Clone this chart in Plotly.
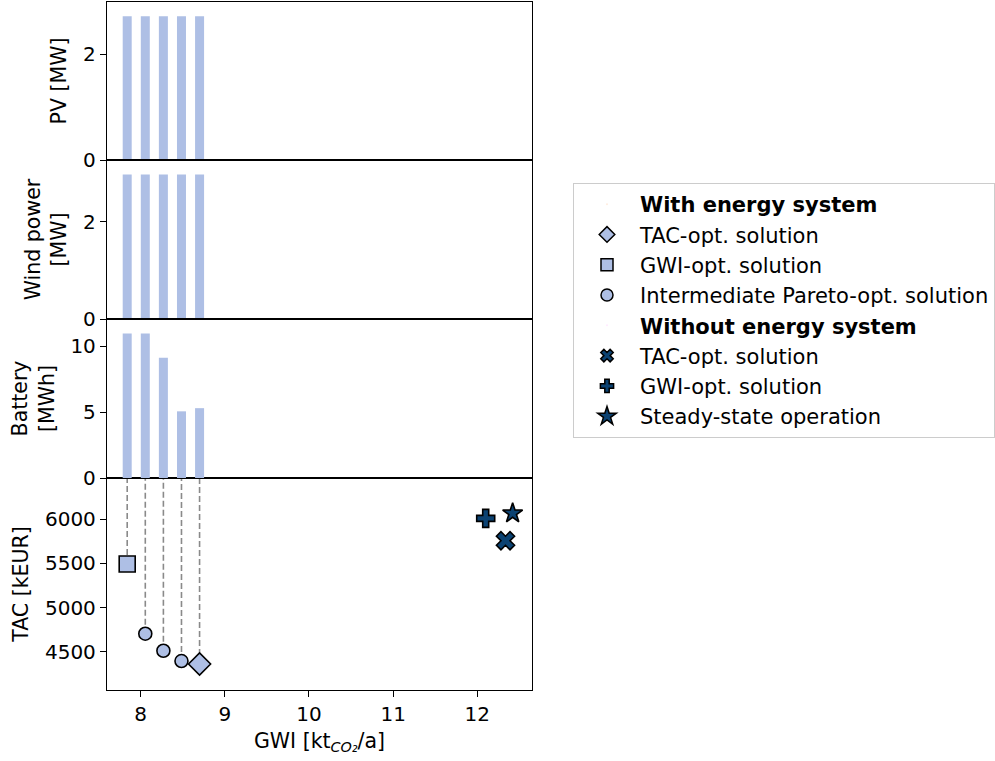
import plotly.graph_objects as go

# Pareto-optimal designs with energy system (GWI in kt CO2/a, TAC in kEUR)
gwi_with = [7.84, 8.055, 8.27, 8.485, 8.70]
tac_with = [5493, 4704, 4511, 4394, 4360]
pv_mw = [2.72, 2.72, 2.72, 2.72, 2.72]
wind_mw = [2.97, 2.97, 2.97, 2.97, 2.97]
battery_mwh = [10.97, 10.97, 9.13, 5.06, 5.30]

# Reference cases without energy system
gwi_without = [12.335, 12.10, 12.42]
tac_without = [5757, 6011, 6068]
labels_without = ["TAC-opt. solution", "GWI-opt. solution", "Steady-state operation"]

X_RANGE = [7.6, 12.65]
TAC_RANGE = [4066, 6468]

LIGHT = "#aebfe5"
DARK = "#0b4272"
FONT = "DejaVu Sans"
BAR_W = 0.107
TITLE_SIZE = 20.5

# paper-coordinate domains of the four stacked panels
X_DOM = [107 / 995, 532 / 995]
edges = [1 - v / 761 for v in (2, 160, 319, 478, 690)]

fig = go.Figure()

# capacity bars (PV -> x2/y2, wind -> x3/y3, battery -> x4/y4)
for vals, ax in ((pv_mw, "2"), (wind_mw, "3"), (battery_mwh, "4")):
    fig.add_trace(go.Bar(x=gwi_with, y=vals, width=BAR_W, marker=dict(color=LIGHT, line=dict(width=0)),
                         xaxis="x" + ax, yaxis="y" + ax, showlegend=False, hoverinfo="skip"))

# dashed connectors from each design up to the bars above
for g, t in zip(gwi_with, tac_with):
    fig.add_trace(go.Scatter(x=[g, g], y=[t, TAC_RANGE[1]], mode="lines",
                             line=dict(color="#8a8a8a", width=1.6, dash="6px,3px"),
                             xaxis="x", yaxis="y", showlegend=False, hoverinfo="skip"))

outline = dict(color="black", width=1.6)
# intermediate Pareto points
fig.add_trace(go.Scatter(x=gwi_with[1:4], y=tac_with[1:4], mode="markers",
                         marker=dict(symbol="circle", size=13, color=LIGHT, line=outline),
                         xaxis="x", yaxis="y", showlegend=False))
# GWI-optimal
fig.add_trace(go.Scatter(x=[gwi_with[0]], y=[tac_with[0]], mode="markers",
                         marker=dict(symbol="square", size=16, color=LIGHT, line=outline),
                         xaxis="x", yaxis="y", showlegend=False))
# TAC-optimal
fig.add_trace(go.Scatter(x=[gwi_with[4]], y=[tac_with[4]], mode="markers",
                         marker=dict(symbol="diamond", size=17, color=LIGHT, line=outline),
                         xaxis="x", yaxis="y", showlegend=False))

dark_symbols = ["x", "cross", "star"]
dark_sizes = [16, 15, 15]
for g, t, s, sz in zip(gwi_without, tac_without, dark_symbols, dark_sizes):
    fig.add_trace(go.Scatter(x=[g], y=[t], mode="markers",
                             marker=dict(symbol=s, size=sz, color=DARK, line=outline),
                             xaxis="x", yaxis="y", showlegend=False))

# legend entries
def legend_entry(name, symbol=None, size=10, color=LIGHT):
    if symbol is None:
        marker = dict(size=1, opacity=0)
    else:
        marker = dict(symbol=symbol, size=size, color=color, line=dict(color="black", width=1.5))
    fig.add_trace(go.Scatter(x=[None], y=[None], mode="markers", name=name, marker=marker,
                             xaxis="x", yaxis="y", showlegend=True))

legend_entry("<b>With energy system</b>")
legend_entry("TAC-opt. solution", "diamond", 12)
legend_entry("GWI-opt. solution", "square", 12)
legend_entry("Intermediate Pareto-opt. solution", "circle", 12)
legend_entry("<b>Without energy system</b>")
for name, s, sz in zip(labels_without, dark_symbols, [11, 11, 14]):
    legend_entry(name, s, sz, DARK)

axis_common = dict(showline=True, mirror=True, linecolor="black", linewidth=1.3,
                   showgrid=False, zeroline=False, ticks="outside", ticklen=6,
                   tickwidth=1.3, tickcolor="black", automargin=False,
                   tickfont=dict(family=FONT, size=20, color="black"))

layout = dict(
    width=995, height=761,
    margin=dict(l=0, r=0, t=0, b=0),
    paper_bgcolor="white", plot_bgcolor="white",
    font=dict(family=FONT, size=20, color="black"),
    barmode="overlay",
    legend=dict(x=573 / 995, y=1 - 183 / 761, xanchor="left", yanchor="top",
                bordercolor="#cccccc", borderwidth=1, bgcolor="white",
                font=dict(family=FONT, size=21), itemwidth=56, tracegroupgap=0),
    xaxis=dict(domain=X_DOM, anchor="y", range=X_RANGE, tickvals=[8, 9, 10, 11, 12],
               title=dict(text="GWI [kt<sub><i>CO₂</i></sub>/a]", standoff=8,
                          font=dict(family=FONT, size=TITLE_SIZE)),
               **axis_common),
    yaxis=dict(domain=[edges[4], edges[3]], anchor="x", range=TAC_RANGE,
               tickvals=[4500, 5000, 5500, 6000],
               title=dict(text="TAC [kEUR]", standoff=10, font=dict(family=FONT, size=TITLE_SIZE)),
               **axis_common),
)

panel_titles = {"2": "PV [MW]", "3": "Wind power<br>[MW]", "4": "Battery<br>[MWh]"}
panel_data = {"2": pv_mw, "3": wind_mw, "4": battery_mwh}
panel_ticks = {"2": [0, 2], "3": [0, 2], "4": [0, 5, 10]}
panel_standoff = {"2": 10, "3": 10, "4": 10}
for i, ax in enumerate(("2", "3", "4")):
    xa = dict(axis_common)
    xa.update(ticks="", showticklabels=False)
    layout["xaxis" + ax] = dict(domain=X_DOM, anchor="y" + ax, matches="x", range=X_RANGE, **xa)
    layout["yaxis" + ax] = dict(domain=[edges[i + 1], edges[i]], anchor="x" + ax,
                                range=[0, 1.1 * max(panel_data[ax])], tickvals=panel_ticks[ax],
                                title=dict(text=panel_titles[ax], standoff=panel_standoff[ax],
                                           font=dict(family=FONT, size=TITLE_SIZE)),
                                **axis_common)

fig.update_layout(**layout)
fig.write_html("out.html")
